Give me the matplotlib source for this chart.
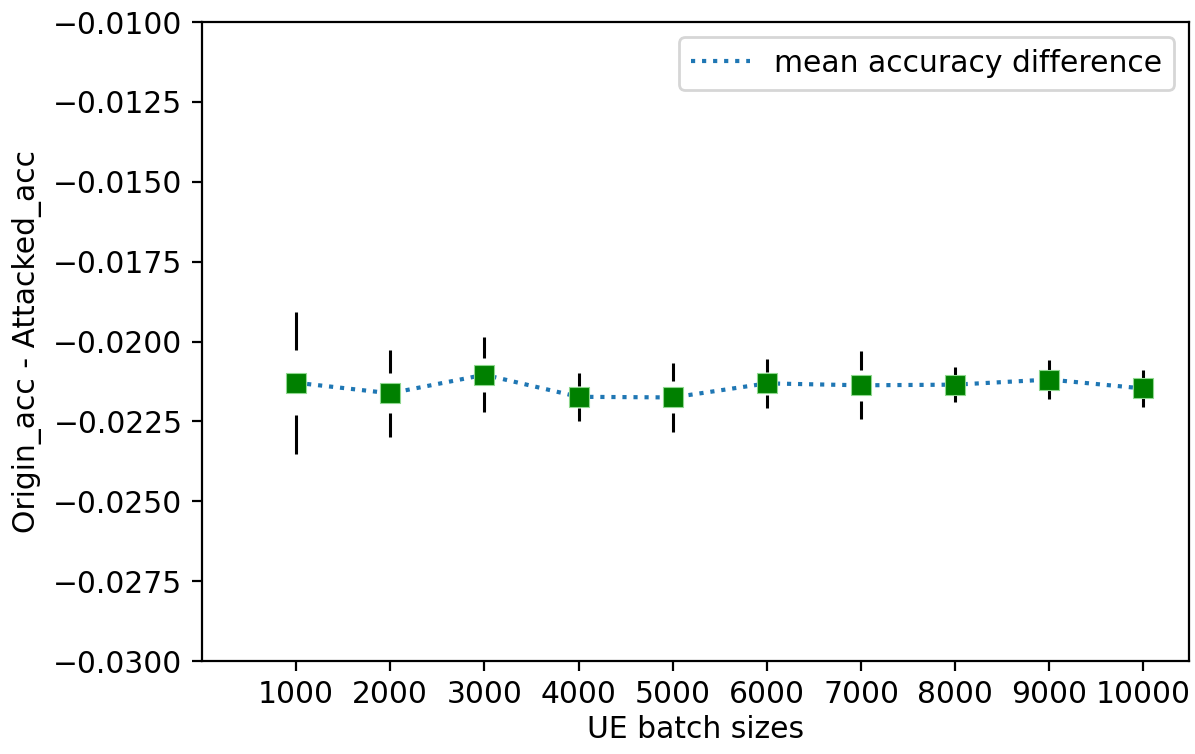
import numpy as np
import matplotlib
matplotlib.use("Agg")
import matplotlib.pyplot as plt

batch_sizes = [1000, 2000, 3000, 4000, 5000, 6000, 7000, 8000, 9000, 10000]
mean_diff = [-0.02129, -0.02162, -0.02104, -0.02173, -0.02175,
             -0.02131, -0.02137, -0.02135, -0.02119, -0.02147]
std_diff = [0.00222, 0.00136, 0.00117, 0.00076, 0.00109,
            0.00077, 0.00106, 0.00054, 0.00060, 0.00059]
y_ticks = [-0.0300, -0.0275, -0.0250, -0.0225, -0.0200,
           -0.0175, -0.0150, -0.0125, -0.0100]

plt.rcParams["font.size"] = 10.7

fig = plt.figure(figsize=(5.975, 3.77), dpi=200)
ax = fig.add_axes([0.169, 0.1233, 0.8257, 0.8475])

x = np.array(batch_sizes)
m = np.array(mean_diff)
s = np.array(std_diff)

# error bars with an open gap around each marker
inner = 0.46
ax.vlines(x, m + inner * s, m + s, color="black", linewidth=1.1, zorder=2)
ax.vlines(x, m - s, m - inner * s, color="black", linewidth=1.1, zorder=2)

ax.plot(
    x, m,
    linestyle=":",
    linewidth=1.5,
    color="tab:blue",
    label="mean accuracy difference",
    zorder=3
)

ax.plot(
    x, m,
    linestyle="none",
    marker="s",
    markersize=7.3,
    markerfacecolor="green",
    markeredgecolor="#8fd88f",
    markeredgewidth=0.4,
    zorder=4
)

ax.set_xlim(0, 10480)
ax.set_ylim(-0.03, -0.01)
ax.set_xticks(batch_sizes)
ax.set_yticks(y_ticks)
ax.set_yticklabels([f"{t:.4f}".replace("-", "\u2212") for t in y_ticks])

ax.set_xlabel("UE batch sizes", labelpad=2)
ax.set_ylabel("Origin_acc - Attacked_acc")

ax.legend(loc="upper right")

fig.savefig("out.png", dpi=200)
